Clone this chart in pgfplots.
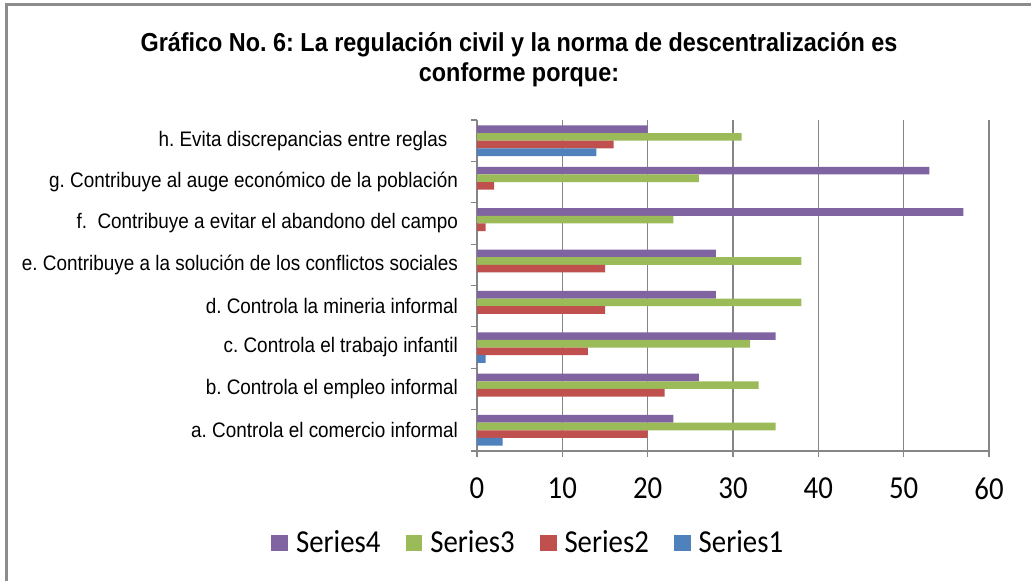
\documentclass[border=0pt]{standalone}
\usepackage{pgfplots}
\pgfplotsset{compat=1.18}
\usepackage{pgfplotstable}
\usepackage{fontspec}
\setmainfont[FakeStretch=0.9]{Liberation Sans}
\newfontfamily\calib[FakeStretch=0.9]{Carlito}
\frenchspacing

\definecolor{sone}{RGB}{79,129,189}
\definecolor{stwo}{RGB}{192,80,77}
\definecolor{sthree}{RGB}{155,187,89}
\definecolor{sfour}{RGB}{128,100,162}
\definecolor{gridgray}{RGB}{134,134,134}
\definecolor{framegray}{RGB}{140,140,140}

% y: 0 = a ... 7 = h
\pgfplotstableread{
y s1 s2 s3 s4
0 3  20 35 23
1 0  22 33 26
2 1  13 32 35
3 0  15 38 28
4 0  15 38 28
5 0  1  23 57
6 0  2  26 53
7 14 16 31 20
}\datatable

\begin{document}
\begin{tikzpicture}
\path[use as bounding box] (0,0) rectangle (515.5pt,290.5pt);
\draw[framegray, line width=1.5pt] (3pt,0) -- (3pt,288pt) -- (515.5pt,288pt);
\node[align=center, font=\bfseries\fontsize{13}{15}\selectfont] at (259.5pt,260.5pt)
  {Gráfico No. 6: La regulación civil y la norma de descentralización es\\conforme porque:};
\begin{axis}[
    at={(238.5pt,65pt)}, anchor=south west,
    scale only axis, width=256pt, height=165.5pt,
    xbar, bar width=0.185,
    xmin=0, xmax=60, ymin=-0.5, ymax=7.5,
    axis x line=bottom, axis y line=left,
    axis line style={-, draw=gridgray, line width=0.8pt},
    xtick={0,10,...,60},
    xmajorgrids, grid style={draw=gridgray, line width=0.8pt},
    tick align=outside, major tick length=3pt, minor tick length=3pt,
    major x tick style={draw=gridgray, line width=0.6pt},
    ytick={0,...,7},
    minor ytick={-0.5,0.5,...,7.5},
    major y tick style={draw=none},
    minor y tick style={draw=gridgray, line width=0.6pt},
    yticklabels={a. Controla el comercio informal, b. Controla el empleo informal,
      c. Controla el trabajo infantil, d. Controla la mineria informal,
      e. Contribuye a la solución de los conflictos sociales,
      f.\ \ Contribuye a evitar el abandono del campo,
      g. Contribuye al auge económico de la población,
      h. Evita discrepancias entre reglas\ \ \ },
    yticklabel style={font=\fontsize{10.5}{12}\selectfont, xshift=-3pt},
    /pgf/number format/assume math mode=true,
    xticklabel style={font=\calib\fontsize{16}{18}\selectfont, yshift=-7pt},
    legend style={at={(0.102,-0.278)}, anchor=center, draw=none,
      font=\calib\fontsize{16}{18}\selectfont,
      /tikz/every odd column/.append style={column sep=2pt},
      /tikz/every even column/.append style={column sep=10.5pt}},
    legend columns=-1,
    legend image code/.code={\fill[#1] (0pt,-4.2pt) rectangle (8.4pt,4.2pt);},
]
\addplot[fill=sfour, draw=none, bar shift=0.2775] table[x=s4, y=y] {\datatable};
\addlegendentry{Series4}
\addplot[fill=sthree, draw=none, bar shift=0.0925] table[x=s3, y=y] {\datatable};
\addlegendentry{Series3}
\addplot[fill=stwo, draw=none, bar shift=-0.0925] table[x=s2, y=y] {\datatable};
\addlegendentry{Series2}
\addplot[fill=sone, draw=none, bar shift=-0.2775] table[x=s1, y=y] {\datatable};
\addlegendentry{Series1}
\end{axis}
\end{tikzpicture}
\end{document}
